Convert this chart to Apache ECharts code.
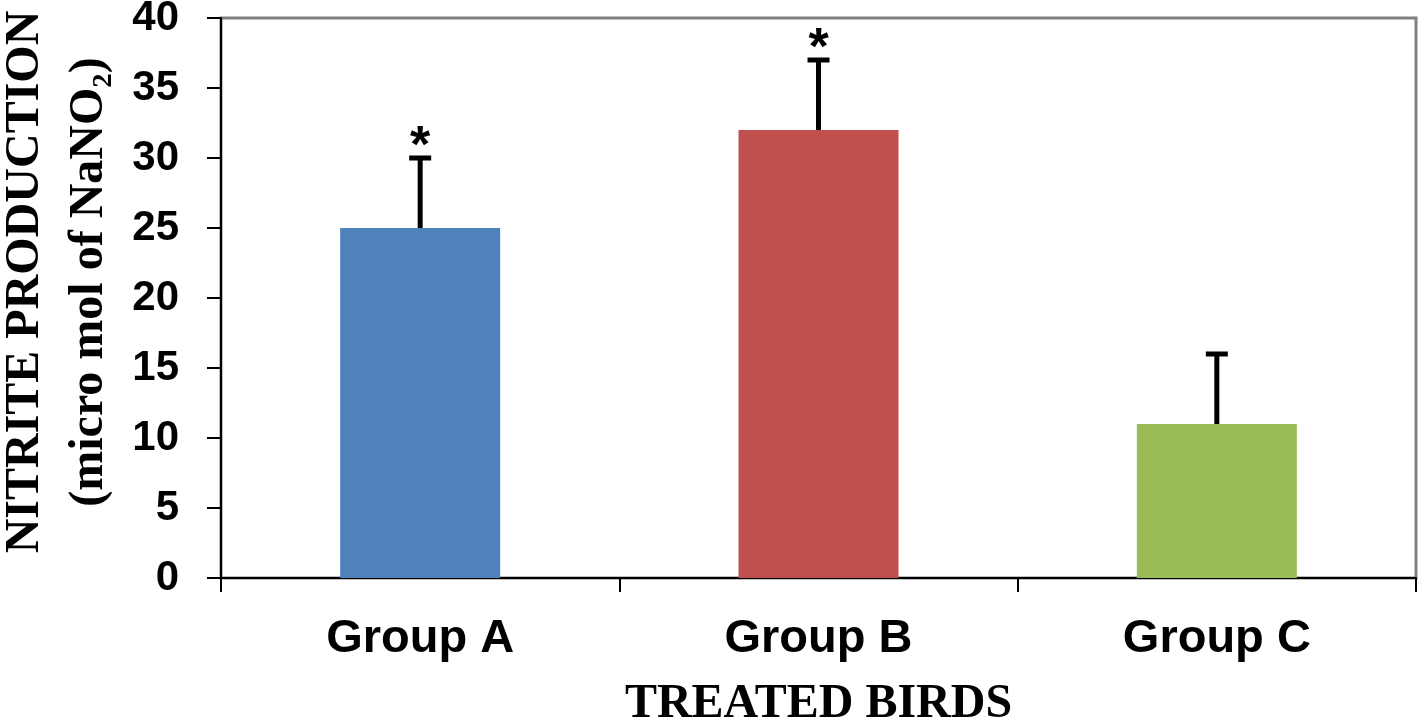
<!DOCTYPE html>
<html><head><meta charset="utf-8">
<script src="https://cdn.jsdelivr.net/npm/echarts@6/dist/echarts.min.js"></script>
<style>html,body{margin:0;padding:0;background:#fff}#c{width:1420px;height:723px}</style>
</head><body><div id="c"></div>
<script>
const categories = ['Group A', 'Group B', 'Group C'];
const values = [25, 32, 11];
const errors = [5, 5, 5];
const significant = [true, true, false];
const yTicks = [0, 5, 10, 15, 20, 25, 30, 35, 40];

const barColors = ['#4f81bd', '#c0504d', '#9bbb59'];
const chart = echarts.init(document.getElementById('c'));
chart.setOption({
  backgroundColor: '#fff',
  animation: false,
  grid: { left: 221, top: 18, right: 4, bottom: 145, containLabel: false, outerBoundsMode: 'none', show: true, borderColor: '#808080', borderWidth: 3, backgroundColor: 'transparent' },
  xAxis: {
    type: 'category', data: categories,
    axisLine: { lineStyle: { color: '#000', width: 2 } },
    axisTick: { show: true, length: 14, lineStyle: { color: '#000', width: 2 } },
    axisLabel: { margin: 38, fontFamily: 'Liberation Sans', fontWeight: 'bold', fontSize: 47, color: '#000' },
    name: 'TREATED BIRDS', nameLocation: 'middle', nameGap: 103,
    nameTextStyle: { fontFamily: 'Liberation Serif', fontWeight: 'bold', fontSize: 48, color: '#000' }
  },
  yAxis: {
    type: 'value', min: yTicks[0], max: yTicks[yTicks.length - 1], interval: 5,
    splitLine: { show: false },
    axisLine: { show: true, lineStyle: { color: '#000', width: 2 } },
    axisTick: { show: true, length: 14, lineStyle: { color: '#000', width: 2 } },
    axisLabel: { margin: 42, fontFamily: 'Liberation Sans', fontWeight: 'bold', fontSize: 42, color: '#000' },
    name: 'NITRITE PRODUCTION\n(micro mol of NaNO₂)', nameLocation: 'middle', nameRotate: 90, nameGap: 89,
    nameTextStyle: { fontFamily: 'Liberation Serif', fontWeight: 'bold', fontSize: 48, lineHeight: 64, color: '#000', align: 'center', padding: [0, 0, 0, 32] }
  },
  series: [
    {
      type: 'bar', barWidth: 160,
      data: values.map((v, i) => ({ value: v, itemStyle: { color: barColors[i] } }))
    },
    {
      type: 'custom', z: 10,
      data: values.map((v, i) => [i, v, v + errors[i], significant[i] ? 1 : 0]),
      renderItem: function (params, api) {
        const base = api.coord([api.value(0), api.value(1)]);
        const top = api.coord([api.value(0), api.value(2)]);
        const children = [
          { type: 'line', shape: { x1: base[0], y1: base[1], x2: top[0], y2: top[1] }, style: { stroke: '#000', lineWidth: 5 } },
          { type: 'line', shape: { x1: top[0] - 11, y1: top[1], x2: top[0] + 11, y2: top[1] }, style: { stroke: '#000', lineWidth: 5 } }
        ];
        if (api.value(3)) {
          children.push({ type: 'text', style: { text: '*', x: top[0], y: top[1] - 10, align: 'center', verticalAlign: 'middle', font: 'bold 52px "Liberation Sans"', fill: '#000' } });
        }
        return { type: 'group', children: children };
      }
    }
  ]
});
</script></body></html>
